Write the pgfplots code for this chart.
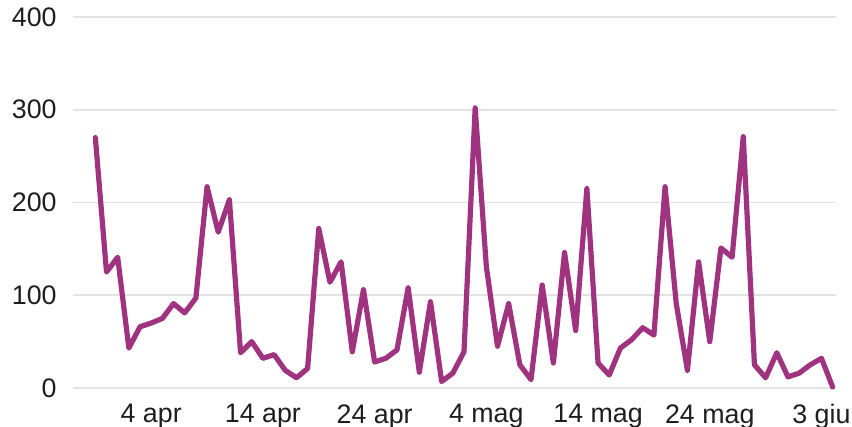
\documentclass[border=0pt]{standalone}
\usepackage{fontspec}
\setmainfont{Liberation Sans}
\usepackage{pgfplots}
\pgfplotsset{compat=1.18}
\definecolor{lineC}{HTML}{A0337F}
\definecolor{gridC}{HTML}{E3E3E3}
\definecolor{txtC}{HTML}{1E1E1E}
\begin{document}
\begin{tikzpicture}
\begin{axis}[
  scale only axis,
  width=381.5pt, height=185.5pt,
  xmin=-2, xmax=66.3,
  ymin=0, ymax=400,
  axis line style={draw=none},
  ytick={0,100,200,300,400},
  xtick={5,15,25,35,45,55,65},
  xticklabels={4 apr,14 apr,24 apr,4 mag,14 mag,24 mag,3 giu},
  major tick length=0pt,
  ymajorgrids,
  grid style={gridC, line width=0.8pt},
  tick label style={font=\fontsize{13.4}{15}\selectfont, text=txtC},
  /pgf/number format/assume math mode=true,
  yticklabel style={anchor=east, inner sep=0pt, xshift=-8pt},
  xticklabel style={anchor=north, inner sep=0pt, yshift=-8pt},
  clip=false,
]
\coordinate (ll) at (rel axis cs:0,0);
\addplot[lineC, line width=2.6pt, line join=round, line cap=round] coordinates {
(0,270) (1,125) (2,141) (3,43) (4,66) (5,70) (6,75) (7,91) (8,81) (9,97)
(10,217) (11,168) (12,203) (13,38) (14,50) (15,32) (16,36) (17,19) (18,11) (19,21)
(20,172) (21,114) (22,136) (23,39) (24,106) (25,28) (26,32) (27,41) (28,108) (29,17)
(30,93) (31,7) (32,16) (33,39) (34,302) (35,131) (36,45) (37,91) (38,25) (39,9)
(40,111) (41,27) (42,146) (43,62) (44,215) (45,27) (46,14) (47,43) (48,52) (49,65)
(50,57) (51,217) (52,91) (53,19) (54,136) (55,50) (56,151) (57,141) (58,271) (59,25)
(60,11) (61,38) (62,12) (63,16) (64,25) (65,32) (66,1)
};
\end{axis}
\pgfresetboundingbox
\path (ll) ++(-36.5pt,-19.5pt) rectangle ++(426pt,213.5pt);
\end{tikzpicture}
\end{document}
